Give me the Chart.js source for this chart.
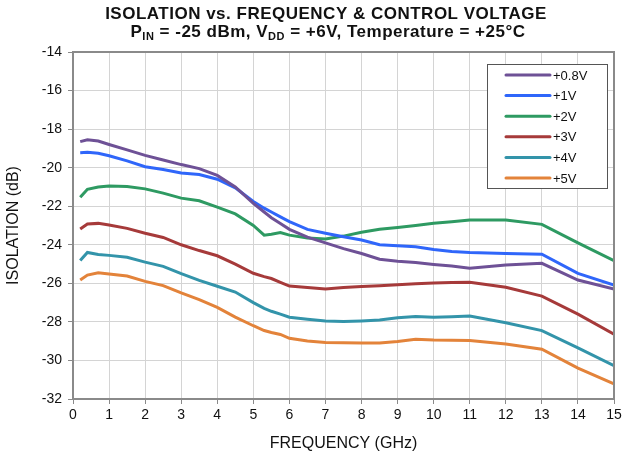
<!DOCTYPE html>
<html><head><meta charset="utf-8">
<script src="https://cdn.jsdelivr.net/npm/chart.js@4.4.0/dist/chart.umd.min.js"></script>
<style>html,body{margin:0;padding:0;background:#fff}#wrap{width:631px;height:457px}</style>
</head><body><div id="wrap"><canvas id="c" width="631" height="457"></canvas></div>
<script>
const freq = [0.2,0.4,0.7,1.0,1.5,2.0,2.5,3.0,3.5,4.0,4.5,5.0,5.3,5.5,5.75,6.0,6.5,7.0,7.5,8.0,8.5,9.0,9.5,10.0,10.5,11,12,13,14,15];
const v08 = [-18.65,-18.55,-18.62,-18.8,-19.08,-19.36,-19.6,-19.84,-20.05,-20.4,-21.0,-21.85,-22.3,-22.6,-22.9,-23.2,-23.6,-23.9,-24.2,-24.45,-24.75,-24.85,-24.92,-25.02,-25.1,-25.22,-25.05,-24.96,-25.83,-26.29];
const v1 = [-19.22,-19.2,-19.25,-19.38,-19.65,-19.95,-20.1,-20.28,-20.36,-20.6,-21.05,-21.75,-22.1,-22.3,-22.55,-22.8,-23.2,-23.4,-23.58,-23.75,-24.0,-24.05,-24.1,-24.24,-24.35,-24.4,-24.45,-24.49,-25.48,-26.09];
const v2 = [-21.54,-21.12,-21.0,-20.95,-20.98,-21.1,-21.32,-21.58,-21.72,-22.05,-22.4,-23.0,-23.5,-23.45,-23.37,-23.5,-23.65,-23.7,-23.55,-23.35,-23.2,-23.1,-23.0,-22.88,-22.8,-22.71,-22.71,-22.94,-23.9,-24.82];
const v3 = [-23.18,-22.92,-22.89,-22.97,-23.15,-23.4,-23.62,-24.0,-24.3,-24.57,-25.0,-25.48,-25.65,-25.75,-25.95,-26.14,-26.22,-26.3,-26.22,-26.17,-26.12,-26.07,-26.02,-25.98,-25.96,-25.95,-26.2,-26.66,-27.6,-28.64];
const v4 = [-24.82,-24.4,-24.5,-24.55,-24.65,-24.9,-25.12,-25.5,-25.85,-26.15,-26.45,-27.0,-27.3,-27.45,-27.6,-27.76,-27.86,-27.95,-27.98,-27.95,-27.9,-27.78,-27.72,-27.76,-27.73,-27.7,-28.04,-28.45,-29.35,-30.27];
const v5 = [-25.83,-25.57,-25.45,-25.51,-25.62,-25.9,-26.12,-26.5,-26.85,-27.25,-27.75,-28.2,-28.45,-28.55,-28.65,-28.85,-28.99,-29.07,-29.08,-29.1,-29.1,-29.02,-28.9,-28.94,-28.95,-28.97,-29.15,-29.42,-30.4,-31.22];
const seriesLabels = ['+0.8V','+1V','+2V','+3V','+4V','+5V'];
const seriesColors = ['#6E5196','#2F66FA','#2E9A62','#A63A3A','#3394AA','#E3833A'];
const allSeries = [v08,v1,v2,v3,v4,v5];

const FONT = '"Liberation Sans", Arial, sans-serif';

const titlePlugin = {
  id: 'titleSub',
  afterDraw(chart) {
    const ctx = chart.ctx;
    ctx.save();
    ctx.fillStyle = '#111';
    ctx.textBaseline = 'alphabetic';
    try { ctx.letterSpacing = '0.5px'; } catch (e) {}
    ctx.font = 'bold 17px ' + FONT;
    ctx.textAlign = 'center';
    ctx.fillText('ISOLATION vs. FREQUENCY & CONTROL VOLTAGE', 326, 19);
    const parts = [['P',0],['IN',1],[' = -25 dBm, V',0],['DD',1],[' = +6V, Temperature = +25°C',0]];
    const big = 'bold 17px ' + FONT, small = 'bold 11px ' + FONT;
    let w = 0;
    for (const [t,s] of parts) { ctx.font = s ? small : big; w += ctx.measureText(t).width; }
    let x = 328 - w/2;
    ctx.textAlign = 'left';
    for (const [t,s] of parts) {
      ctx.font = s ? small : big;
      ctx.fillText(t, x, s ? 40 : 37);
      x += ctx.measureText(t).width;
    }
    ctx.restore();
  }
};

const framePlugin = {
  id: 'frame',
  afterDatasetsDraw(chart) {
    const {ctx, chartArea:a} = chart;
    ctx.save();
    ctx.strokeStyle = '#8a8a8a';
    ctx.lineWidth = 2;
    ctx.strokeRect(a.left, a.top, a.right - a.left, a.bottom - a.top);
    // legend box
    const bx = 487, by = 64, bw = 120, bh = 124;
    ctx.fillStyle = '#fff';
    ctx.fillRect(bx, by, bw, bh);
    ctx.strokeStyle = '#555';
    ctx.lineWidth = 1;
    ctx.strokeRect(bx + 0.5, by + 0.5, bw, bh);
    ctx.font = '13px ' + FONT;
    ctx.textBaseline = 'middle';
    ctx.textAlign = 'left';
    chart.data.datasets.forEach((ds, i) => {
      const y = by + 11 + i * 20.6;
      ctx.strokeStyle = ds.borderColor;
      ctx.lineWidth = 3;
      ctx.lineCap = 'round';
      ctx.beginPath();
      ctx.moveTo(506, y); ctx.lineTo(550, y); ctx.stroke();
      ctx.fillStyle = '#111';
      ctx.fillText(ds.label, 553, y + 1);
    });
    ctx.restore();
  }
};

new Chart(document.getElementById('c'), {
  type: 'line',
  data: {
    datasets: allSeries.map((vals, i) => ({
      label: seriesLabels[i],
      data: freq.map((f, j) => ({x: f, y: vals[j]})),
      borderColor: seriesColors[i],
      backgroundColor: seriesColors[i],
      borderWidth: 3,
      pointRadius: 0,
      tension: 0,
      fill: false
    }))
  },
  options: {
    responsive: false,
    animation: false,
    layout: { padding: { top: 52, right: 17, left: 0, bottom: 0 } },
    plugins: { legend: { display: false }, title: { display: false }, tooltip: { enabled: false } },
    scales: {
      x: {
        type: 'linear', min: 0, max: 15,
        ticks: { stepSize: 1, color: '#111', font: { family: FONT, size: 14 }, padding: 3, maxRotation: 0 },
        grid: { color: '#d4d4d4', lineWidth: 1, tickLength: 5, tickColor: '#8a8a8a' },
        border: { color: '#8a8a8a', width: 2 },
        title: { display: true, text: 'FREQUENCY (GHz)', color: '#111', font: { family: FONT, size: 16 }, padding: { top: 6 } },
        afterFit(s) { s.height = 58; }
      },
      y: {
        min: -32, max: -14,
        ticks: { stepSize: 2, color: '#111', font: { family: FONT, size: 14 }, padding: 6 },
        grid: { color: '#d4d4d4', lineWidth: 1, tickLength: 5, tickColor: '#8a8a8a' },
        border: { color: '#8a8a8a', width: 2 },
        title: { display: true, text: 'ISOLATION (dB)', color: '#111', font: { family: FONT, size: 16 }, padding: { bottom: 4 } },
        afterFit(s) { s.width = 73; }
      }
    }
  },
  plugins: [titlePlugin, framePlugin]
});
</script>
</body></html>
